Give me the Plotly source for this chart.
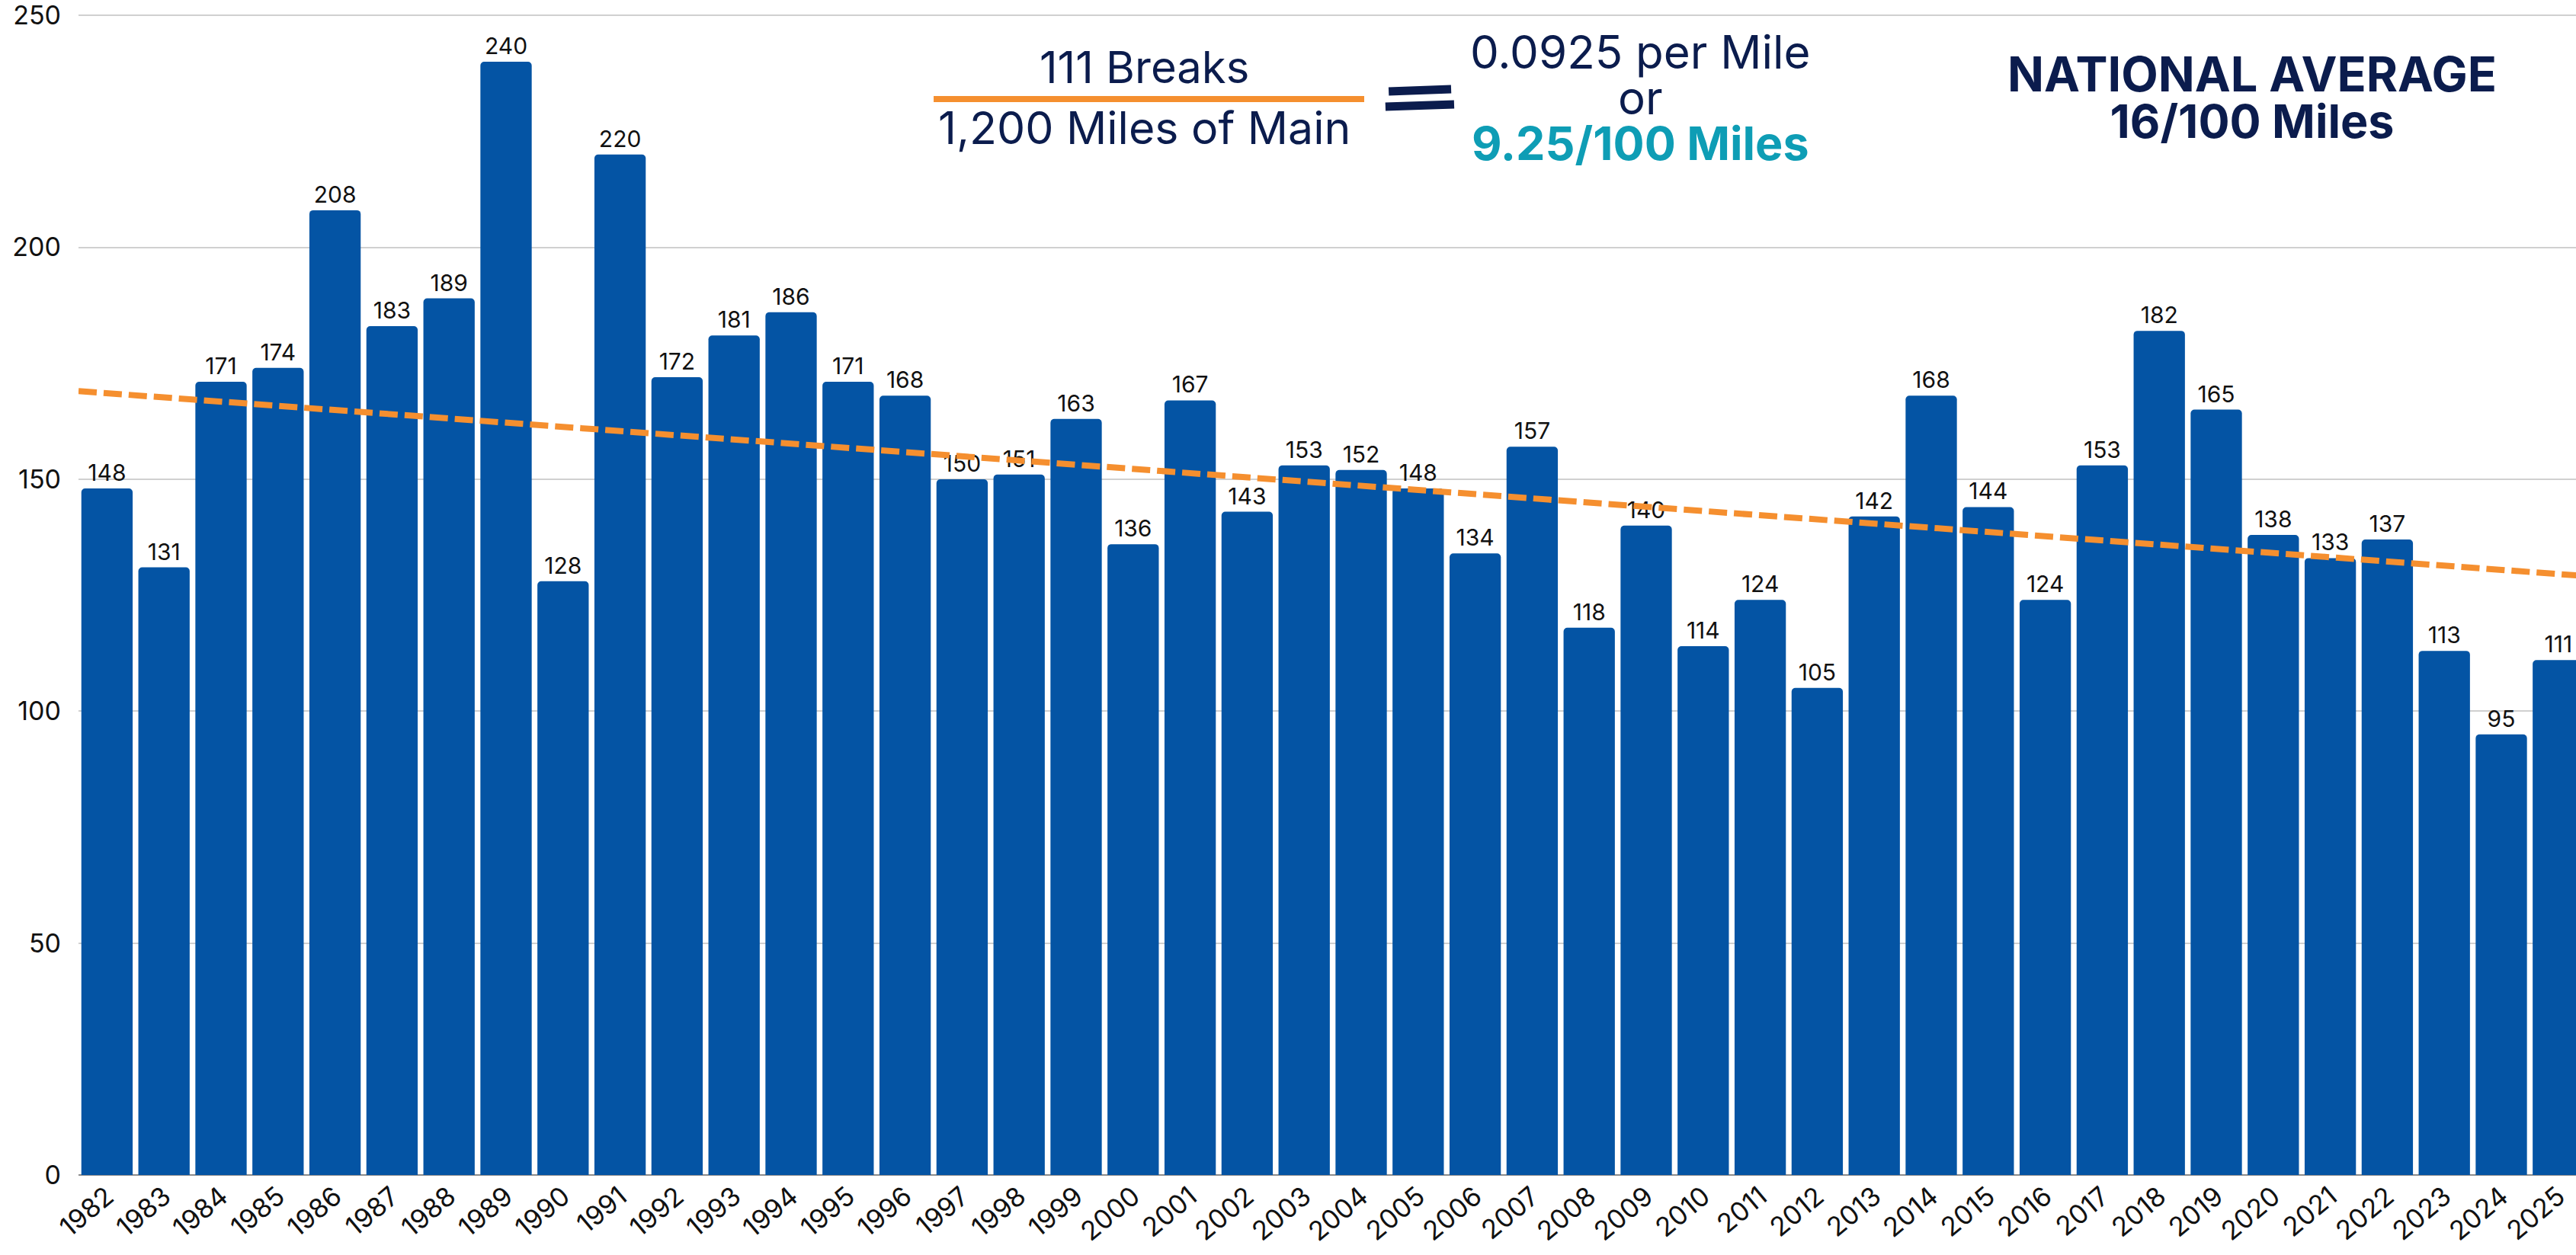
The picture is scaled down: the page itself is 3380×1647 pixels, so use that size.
import plotly.graph_objects as go

# Roturas de tubería por año
years = list(range(1982, 2026))
breaks = [148, 131, 171, 174, 208, 183, 189, 240, 128, 220,
          172, 181, 186, 171, 168, 150, 151, 163, 136, 167,
          143, 153, 152, 148, 134, 157, 118, 140, 114, 124,
          105, 142, 168, 144, 124, 153, 182, 165, 138, 133,
          137, 113, 95, 111]
y_ticks = [0, 50, 100, 150, 200, 250]

# Tendencia (extremo izquierdo y derecho)
trend_years = [1981.5, 2025.5]
trend_values = [169.0, 129.1]

BAR_BLUE = "#0454A4"
ORANGE = "#F58F2F"
NAVY = "#0B1C4D"
TEAL = "#0E9DB5"
FONT = "Inter"

fig = go.Figure()

fig.add_trace(go.Bar(
    x=years,
    y=breaks,
    marker_color=BAR_BLUE,
    marker_line_width=0,
    text=[str(v) for v in breaks],
    textposition="outside",
    textfont=dict(family=FONT, size=30, color="#111111"),
    cliponaxis=False,
    width=0.9,
))

fig.add_trace(go.Scatter(
    x=trend_years,
    y=trend_values,
    mode="lines",
    line=dict(color=ORANGE, width=8, dash="24px,9px"),
))

# Textos de la cabecera
annotations = [
    dict(text="111 Breaks", x=0.4269, y=0.9547, size=58, color=NAVY),
    dict(text="1,200 Miles of Main", x=0.4269, y=0.9022, size=59, color=NAVY),
]
for a in annotations:
    fig.add_annotation(
        text=a["text"], x=a["x"], y=a["y"], xref="paper", yref="paper",
        xanchor="center", yanchor="middle", showarrow=False,
        font=dict(family=FONT, size=a["size"], color=a["color"]),
    )

# resultado en tres líneas (un solo bloque, interlineado ajustado)
rate_text = (
    "<span style='font-size:60px'>0.0925 per Mile</span><br>"
    "<span style='font-size:60px'>or</span><br>"
    f"<span style='font-size:61px;color:{TEAL}'><b>9.25/100 Miles</b></span>"
)
fig.add_annotation(
    text=rate_text, x=0.6253, y=0.9284, xref="paper", yref="paper",
    xanchor="center", yanchor="middle", showarrow=False, align="center",
    font=dict(family=FONT, size=46, color=NAVY),
)

# promedio nacional en dos líneas
nat_text = (
    "<span style='font-size:63px'><b>NATIONAL AVERAGE</b></span><br>"
    "<span style='font-size:61px'><b>16/100 Miles</b></span>"
)
fig.add_annotation(
    text=nat_text, x=0.8703, y=0.9288, xref="paper", yref="paper",
    xanchor="center", yanchor="middle", showarrow=False, align="center",
    font=dict(family=FONT, size=47, color=NAVY),
)

# barra naranja de la fracción
fig.add_shape(type="line", xref="paper", yref="paper",
              x0=0.3424, x1=0.5148, y0=0.9271, y1=0.9271,
              line=dict(color=ORANGE, width=8))

# signo "=" a pincel
fig.add_shape(type="line", xref="paper", yref="paper",
              x0=0.5246, x1=0.5496, y0=0.9337, y1=0.9357,
              line=dict(color=NAVY, width=11))
fig.add_shape(type="line", xref="paper", yref="paper",
              x0=0.5233, x1=0.5508, y0=0.9205, y1=0.9225,
              line=dict(color=NAVY, width=11))

fig.update_layout(
    width=3380,
    height=1647,
    margin=dict(l=103, r=0, t=19, b=105),
    plot_bgcolor="white",
    paper_bgcolor="white",
    showlegend=False,
    bargap=0.1,
    barcornerradius=5,
    font=dict(family=FONT, color="#111111"),
)

fig.update_xaxes(
    range=[years[0] - 0.5, years[-1] + 0.31],
    tickmode="array",
    tickvals=years,
    ticktext=[str(y) for y in years],
    tickangle=-40,
    tickfont=dict(family=FONT, size=35, color="#111111"),
    ticklabelstandoff=0,
    automargin=False,
    showgrid=False,
    showline=False,
    ticks="",
)

fig.update_yaxes(
    range=[0, 250.2],
    tickvals=y_ticks,
    tickfont=dict(family=FONT, size=34, color="#111111"),
    ticklabeloverflow="allow",
    automargin=False,
    showgrid=True,
    gridcolor="#D0D0D0",
    gridwidth=2,
    zeroline=True,
    zerolinecolor="#8C8C8C",
    zerolinewidth=2,
    ticks="",
    ticklabelstandoff=22,
)

fig.write_html("out.html", config={"displayModeBar": False},
               post_script="document.body.style.margin='0px';")
